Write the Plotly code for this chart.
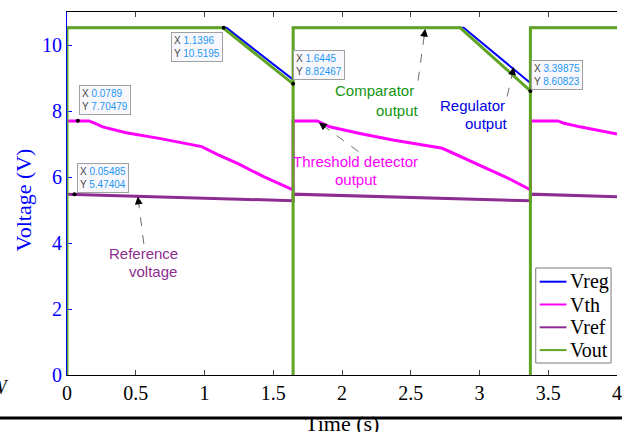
import plotly.graph_objects as go

# ---------------- data ----------------
t_reg = [0.0, 1.16, 1.6445, 1.6445, 2.885, 3.37, 3.37, 4.0]
v_reg = [10.52, 10.52, 8.95, 10.52, 10.52, 8.85, 10.52, 10.52]

t_th = [0.0, 0.16, 0.2, 0.26, 0.43, 0.67, 0.98, 1.10, 1.24, 1.43, 1.6445,
        1.6445, 1.82, 1.91, 2.13, 2.37, 2.73, 2.97, 3.21, 3.37,
        3.37, 3.57, 3.615, 3.73, 4.0]
v_th = [7.70, 7.70, 7.63, 7.52, 7.34, 7.17, 6.92, 6.67, 6.41, 6.01, 5.61,
        7.70, 7.70, 7.52, 7.32, 7.12, 6.87, 6.41, 5.96, 5.61,
        7.70, 7.70, 7.63, 7.52, 7.30]

t_ref = [0.0, 0.9, 1.6445, 1.6445, 2.5, 3.37, 3.37, 4.0]
v_ref = [5.48, 5.37, 5.28, 5.48, 5.37, 5.28, 5.48, 5.40]

t_out = [0.0, 0.0, 1.135, 1.6445, 1.6445, 1.6445, 2.86, 3.37, 3.37, 3.37, 4.0]
v_out = [0.0, 10.52, 10.52, 8.82, 0.0, 10.52, 10.52, 8.61, 0.0, 10.52, 10.52]

series_names = ["Vreg", "Vth", "Vref", "Vout"]

# data tips
dt_t = [1.1396, 1.6445, 0.0789, 0.05485, 3.37]
dt_v = [10.5195, 8.82467, 7.70479, 5.47404, 8.60823]
dt_xlabel = ["1.1396", "1.6445", "0.0789", "0.05485", "3.39875"]
dt_ylabel = ["10.5195", "8.82467", "7.70479", "5.47404", "8.60823"]

x_ticks = [0, 0.5, 1, 1.5, 2, 2.5, 3, 3.5, 4]
y_ticks = [0, 2, 4, 6, 8, 10]

# ---------------- styles ----------------
C_REG = "rgb(0,0,255)"
C_TH = "rgb(255,0,255)"
C_REF = "rgb(142,45,145)"
C_OUT = "rgb(95,165,35)"
SERIF = "Liberation Serif"
SANS = "Liberation Sans"

W, H = 622, 432
ML, MR, MT, MB = 67, 0, 12, 57
PW, PH = W - ML - MR, H - MT - MB


def px(xp):
    return (xp - ML) / PW


def py(yp):
    return (H - MB - yp) / PH


fig = go.Figure()
series = [(t_reg, v_reg, C_REG, 2), (t_th, v_th, C_TH, 3),
          (t_ref, v_ref, C_REF, 3), (t_out, v_out, C_OUT, 3)]
for name, (tx, vy, c, w) in zip(series_names, series):
    fig.add_trace(go.Scatter(x=tx, y=vy, mode="lines", name=name, showlegend=False,
                             line=dict(color=c, width=w)))
fig.add_trace(go.Scatter(x=dt_t, y=dt_v, mode="markers", showlegend=False,
                         marker=dict(color="black", size=4), cliponaxis=False))

annotations = []
shapes = []
# data tip boxes: (xanchor, yanchor, xshift, yshift)
dt_place = [("right", "top", -1, -4), ("left", "bottom", 0, 4),
            ("left", "bottom", 1, 6), ("left", "bottom", 2, 1),
            ("left", "bottom", 1, 1)]
for t, v, lx, ly, (xa, ya, xs, ys) in zip(dt_t, dt_v, dt_xlabel, dt_ylabel, dt_place):
    txt = ("X <span style='color:rgb(30,150,245)'>%s</span><br>"
           "Y <span style='color:rgb(30,150,245)'>%s</span>" % (lx, ly))
    annotations.append(dict(x=t, y=v, xref="x", yref="y", text=txt, showarrow=False,
                            xanchor=xa, yanchor=ya, xshift=xs, yshift=ys, align="left",
                            font=dict(family=SANS, size=10, color="rgb(70,70,70)"),
                            bgcolor="rgb(248,248,252)", bordercolor="rgb(160,160,160)",
                            borderwidth=1, borderpad=2))

# text labels
labels = [
    ("Comparator", 2.234, 8.62, "rgb(20,150,20)"),
    ("output", 2.404, 8.02, "rgb(20,150,20)"),
    ("Regulator", 2.949, 8.16, "rgb(0,0,230)"),
    ("output", 3.052, 7.62, "rgb(0,0,230)"),
    ("Threshold detector", 2.101, 6.48, C_TH),
    ("output", 2.108, 5.92, C_TH),
    ("Reference", 0.559, 3.67, C_REF),
    ("voltage", 0.628, 3.13, C_REF),
]
for txt, t, v, c in labels:
    annotations.append(dict(x=t, y=v, xref="x", yref="y", text=txt, showarrow=False,
                            xanchor="center", yanchor="middle",
                            font=dict(family=SANS, size=15, color=c)))

# arrows: head (t,v), tail (t,v), head offset (ax, ay)
arrows = [
    ((2.605, 10.49), (2.553, 8.92), (-1.3, 9)),
    ((3.249, 9.33), (3.201, 8.44), (-2, 9)),
    ((1.832, 7.65), (2.120, 6.77), (7.3, 5.3)),
    ((0.515, 5.41), (0.559, 3.97), (1.1, 9)),
]
for (ht, hv), (tt, tv), (ax, ay) in arrows:
    shapes.append(dict(type="line", xref="x", yref="y", x0=tt, y0=tv, x1=ht, y1=hv,
                       line=dict(color="rgb(110,110,110)", width=1, dash="dash")))
    annotations.append(dict(x=ht, y=hv, xref="x", yref="y", text="", showarrow=True,
                            ax=ax, ay=ay, arrowhead=2, arrowsize=1.3, arrowwidth=1.2,
                            arrowcolor="black"))

# axis titles and stray glyph
annotations.append(dict(x=px(23), y=py(200), xref="paper", yref="paper", text="Voltage (V)",
                        textangle=-90, showarrow=False, xanchor="center", yanchor="middle",
                        font=dict(family=SERIF, size=22, color="rgb(0,0,255)")))
annotations.append(dict(x=0.5, y=py(424), xref="paper", yref="paper", text="Time (s)",
                        showarrow=False, xanchor="center", yanchor="middle",
                        font=dict(family=SERIF, size=22, color="black")))
annotations.append(dict(x=px(-1.5), y=py(387), xref="paper", yref="paper", text="<i>W</i>",
                        showarrow=False, xanchor="center", yanchor="middle",
                        font=dict(family=SERIF, size=20, color="black")))

shapes.append(dict(type="line", xref="paper", yref="paper", x0=px(-5), x1=px(630),
                   y0=py(418), y1=py(418), line=dict(color="black", width=3)))

# legend box (drawn)
shapes.append(dict(type="rect", xref="paper", yref="paper", x0=px(540), x1=px(616),
                   y0=py(363), y1=py(268), fillcolor="white",
                   line=dict(color="rgb(120,120,120)", width=1)))
leg_rows = [281.7, 304.5, 327.3, 350.1]
for name, (_, _, c, w), yr in zip(series_names, series, leg_rows):
    shapes.append(dict(type="line", xref="paper", yref="paper", x0=px(544), x1=px(571),
                       y0=py(yr), y1=py(yr), line=dict(color=c, width=2)))
    annotations.append(dict(x=px(573), y=py(yr), xref="paper", yref="paper", text=name,
                            showarrow=False, xanchor="left", yanchor="middle",
                            font=dict(family=SERIF, size=20, color="black")))

fig.update_layout(
    width=W, height=H,
    margin=dict(l=ML, r=MR, t=MT, b=MB),
    paper_bgcolor="white", plot_bgcolor="white",
    annotations=annotations, shapes=shapes,
    showlegend=False,
    xaxis=dict(range=[0, 4], tickvals=x_ticks, ticks="inside", ticklen=5,
               showline=True, linecolor="black", linewidth=1, mirror="ticks",
               showgrid=False, zeroline=False, layer="below traces",
               ticklabeloverflow="allow",
               tickfont=dict(family=SERIF, size=20, color="black")),
    yaxis=dict(range=[0, 11], tickvals=y_ticks, ticks="inside", ticklen=5,
               tickcolor="rgb(0,0,255)", showline=True, linecolor="rgb(0,0,255)",
               linewidth=1, showgrid=False, zeroline=False, layer="below traces",
               tickfont=dict(family=SERIF, size=20, color="rgb(0,0,255)")),
)

fig.write_html("out.html", config={"displayModeBar": False},
               post_script="document.body.style.margin='0';document.body.style.overflow='hidden';")
